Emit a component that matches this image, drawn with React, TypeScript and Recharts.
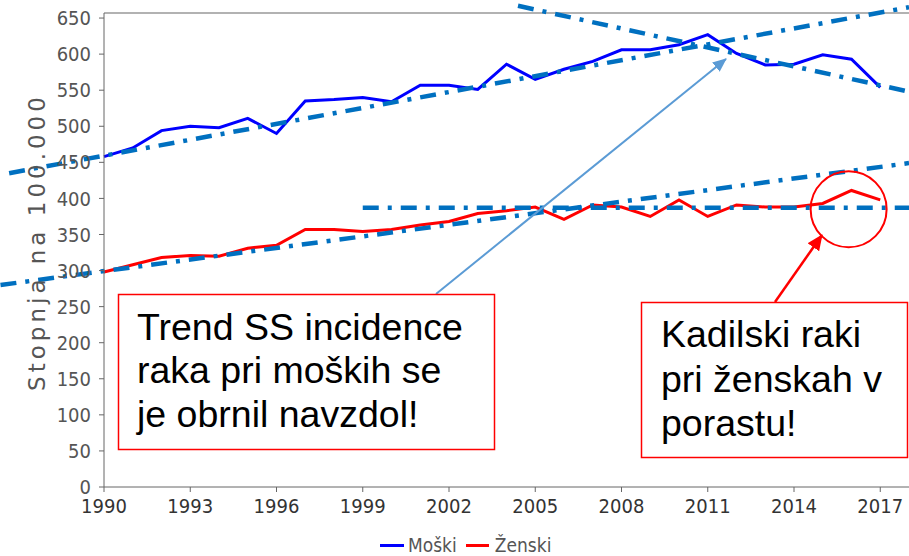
import React from 'react';
import {
  LineChart,
  Line,
  XAxis,
  YAxis,
  ReferenceLine,
  ReferenceDot,
  Legend,
} from 'recharts';

// incidence per 100.000
const years = [
  1990, 1991, 1992, 1993, 1994, 1995, 1996, 1997, 1998, 1999,
  2000, 2001, 2002, 2003, 2004, 2005, 2006, 2007, 2008, 2009,
  2010, 2011, 2012, 2013, 2014, 2015, 2016, 2017,
];
const moski = [
  458, 470, 494, 500, 498, 511, 490, 535, 537, 540,
  534, 557, 557, 551, 586, 565, 579, 590, 606, 606,
  613, 627, 601, 585, 586, 599, 593, 554,
];
const zenski = [
  298, 308, 318, 321, 320, 331, 335, 357, 357, 354,
  357, 363, 368, 379, 383, 388, 371, 391, 388, 375,
  398, 375, 391, 388, 388, 393, 411, 398,
];

const xTicks = [1990, 1993, 1996, 1999, 2002, 2005, 2008, 2011, 2014, 2017];
const yTicks = [0, 50, 100, 150, 200, 250, 300, 350, 400, 450, 500, 550, 600, 650];

// hand-drawn trend lines: [year, value] end points
const trendMenUp = [[1986.7, 435], [2018, 665]];
const trendMenDown = [[2004.4, 667], [2018, 548]];
const trendWomenFlat = [[1999, 387], [2018, 387]];
const trendWomenUp = [[1986.4, 280], [2018, 449]];
const trends = [trendMenUp, trendMenDown, trendWomenFlat, trendWomenUp];

// highlighted point (circle)
const highlight = { year: 2015.9, value: 385 };

const boxMen = ['Trend SS incidence', 'raka pri moških se', 'je obrnil navzdol!'];
const boxWomen = ['Kadilski raki', 'pri ženskah v', 'porastu!'];

const data = years.map((y, i) => ({ year: y, 'Moški': moski[i], 'Ženski': zenski[i] }));

const axisFont = "'DejaVu Sans Condensed', 'DejaVu Sans', sans-serif";
const boxFont = "'Liberation Sans', Arial, sans-serif";

const YTitle = () => (
  <text
    x={37}
    y={242}
    transform="rotate(-90, 37, 242)"
    textAnchor="middle"
    dominantBaseline="central"
    fill="#555"
    fontSize={23}
    letterSpacing={4}
    fontFamily="'DejaVu Sans', sans-serif"
  >
    Stopnja na 100.000
  </text>
);

const LegendContent = () => (
  <div style={{ display: 'flex', alignItems: 'center', height: 22, fontFamily: axisFont, fontSize: 19, lineHeight: '22px', color: '#555' }}>
    <span style={{ display: 'inline-block', width: 24, height: 3, background: '#0000ff', marginRight: 4 }} />
    <span style={{ marginRight: 9 }}>Moški</span>
    <span style={{ display: 'inline-block', width: 23, height: 3, background: '#ff0000', marginRight: 6 }} />
    <span>Ženski</span>
  </div>
);

const Callouts = () => (
  <svg
    width={909}
    height={556}
    style={{ position: 'absolute', left: 0, top: 0, pointerEvents: 'none' }}
  >
    <defs>
      <marker id="headBlue" markerUnits="userSpaceOnUse" markerWidth={14} markerHeight={12} refX={13} refY={6} orient="auto">
        <path d="M0,0 L14,6 L0,12 Z" fill="#5b9bd5" />
      </marker>
      <marker id="headRed" markerUnits="userSpaceOnUse" markerWidth={16} markerHeight={14} refX={15} refY={7} orient="auto">
        <path d="M0,0 L16,7 L0,14 Z" fill="#ff0000" />
      </marker>
    </defs>
    <line x1={436} y1={294} x2={726} y2={59} stroke="#5b9bd5" strokeWidth={2} markerEnd="url(#headBlue)" />
    <line x1={775} y1={302} x2={822} y2={235} stroke="#ff0000" strokeWidth={2.5} markerEnd="url(#headRed)" />

    <rect x={118.5} y={294.5} width={376} height={155} fill="#fff" stroke="#ff0000" strokeWidth={1.5} />
    <text x={137} y={340} fontFamily={boxFont} fontSize={37.5} fill="#000">
      {boxMen.map((t, i) => (
        <tspan key={i} x={137} y={340 + i * 43.3}>{t}</tspan>
      ))}
    </text>

    <rect x={641.5} y={302.5} width={266} height={155} fill="#fff" stroke="#ff0000" strokeWidth={1.5} />
    <text x={661} y={347} fontFamily={boxFont} fontSize={37.5} fill="#000">
      {boxWomen.map((t, i) => (
        <tspan key={i} x={661} y={347 + i * 44.5}>{t}</tspan>
      ))}
    </text>
  </svg>
);

export default function App() {
  return (
    <div style={{ position: 'absolute', left: 0, top: 0, width: 909, height: 556, overflow: 'hidden', background: '#fff' }}>
      <LineChart width={909} height={556} data={data} margin={{ top: 13, right: 0, bottom: 0, left: 0 }}>
        <XAxis
          dataKey="year"
          type="number"
          domain={[1990, 2018]}
          ticks={xTicks}
          height={47}
          tickSize={5}
          tickMargin={7}
          stroke="#666"
          tick={{ fill: '#333', fontSize: 20, fontFamily: axisFont }}
        />
        <YAxis
          type="number"
          domain={[0, 657]}
          ticks={yTicks}
          width={104}
          tickSize={5}
          tickMargin={8}
          stroke="#666"
          tick={{ fill: '#555', fontSize: 20, fontFamily: axisFont }}
          label={<YTitle />}
        />
        <ReferenceLine y={657} stroke="#999" strokeWidth={1.5} />
        <Legend
          verticalAlign="bottom"
          height={22}
          content={<LegendContent />}
          wrapperStyle={{ left: 380, width: 220, height: 22, bottom: 'auto', top: 534 }}
        />
        <Line
          dataKey="Moški"
          stroke="#0000ff"
          strokeWidth={3}
          dot={false}
          isAnimationActive={false}
        />
        <Line
          dataKey="Ženski"
          stroke="#ff0000"
          strokeWidth={3}
          dot={false}
          isAnimationActive={false}
        />
        {trends.map((t, i) => (
          <ReferenceLine
            key={i}
            segment={[{ x: t[0][0], y: t[0][1] }, { x: t[1][0], y: t[1][1] }]}
            ifOverflow="visible"
            stroke="#0070c0"
            strokeWidth={4.5}
            strokeDasharray="16 9 4 9"
          />
        ))}
        <ReferenceDot
          x={highlight.year}
          y={highlight.value}
          r={38}
          fill="none"
          stroke="#ff0000"
          strokeWidth={2}
          ifOverflow="visible"
        />
      </LineChart>
      <Callouts />
    </div>
  );
}
